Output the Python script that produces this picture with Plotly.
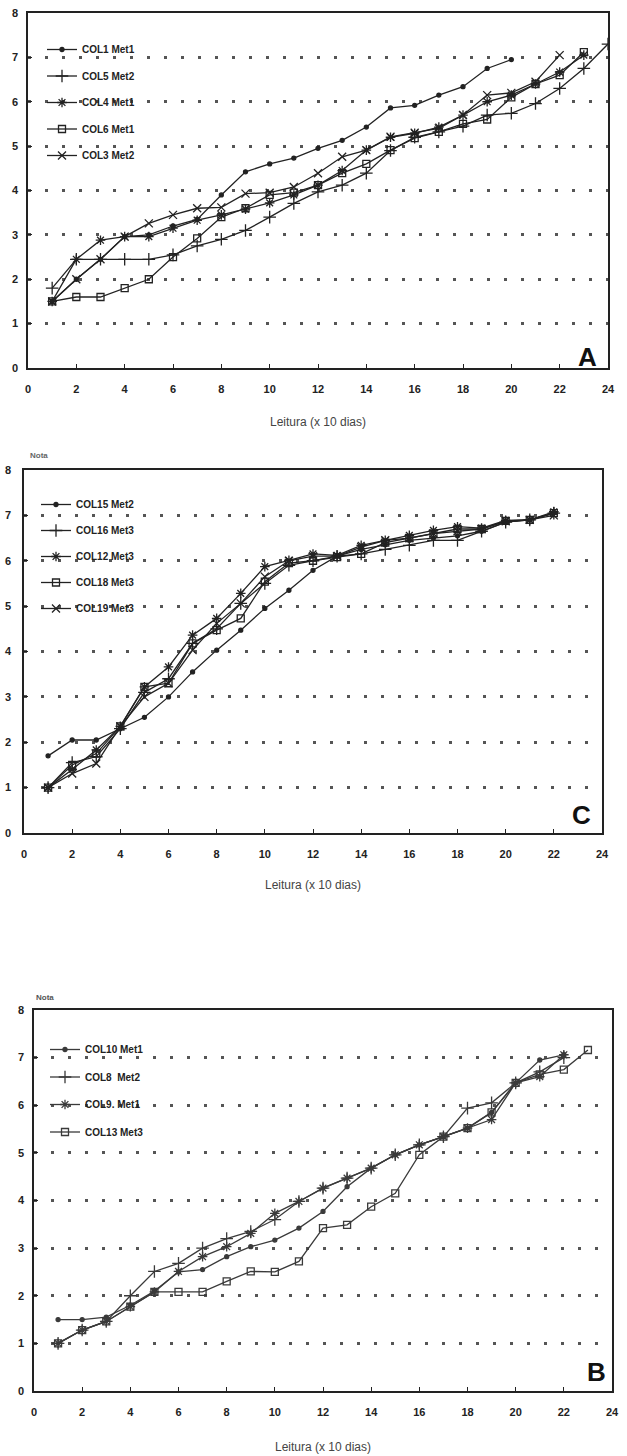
import plotly.graph_objects as go

# ---------------- data ----------------
x_ticks = list(range(0, 25, 2))
y_ticks = list(range(0, 9))

# Panel A
a_names = ["COL1 Met1", "COL5 Met2", "COL4 Met1", "COL6 Met1", "COL3 Met2"]
a_col1 = [1.5, 2.0, 2.45, 2.96, 3.0, 3.2, 3.35, 3.9, 4.42, 4.6, 4.73, 4.95, 5.13, 5.43, 5.86, 5.92, 6.15, 6.34, 6.75, 6.95]
a_col5 = [1.8, 2.45, 2.45, 2.45, 2.45, 2.55, 2.75, 2.9, 3.1, 3.4, 3.71, 3.97, 4.12, 4.39, 4.9, 5.2, 5.32, 5.45, 5.7, 5.74, 5.96, 6.3, 6.75, 7.3]
a_col4 = [1.5, 2.45, 2.88, 2.96, 2.96, 3.15, 3.33, 3.45, 3.58, 3.72, 3.9, 4.12, 4.45, 4.91, 5.2, 5.29, 5.43, 5.7, 6.0, 6.15, 6.4, 6.67, 7.05]
a_col6 = [1.5, 1.6, 1.6, 1.8, 2.0, 2.5, 2.92, 3.4, 3.6, 3.9, 3.95, 4.12, 4.39, 4.6, 4.91, 5.18, 5.32, 5.5, 5.6, 6.1, 6.4, 6.6, 7.12]
a_col3 = [1.5, 2.0, 2.45, 2.96, 3.26, 3.45, 3.6, 3.62, 3.93, 3.95, 4.08, 4.39, 4.76, 4.91, 5.21, 5.3, 5.4, 5.7, 6.15, 6.2, 6.45, 7.05]

# Panel C
c_names = ["COL15 Met2", "COL16 Met3", "COL12 Met3", "COL18 Met3", "COL19 Met3"]
c_col15 = [1.7, 2.05, 2.05, 2.3, 2.55, 3.0, 3.55, 4.03, 4.47, 4.95, 5.35, 5.79, 6.1, 6.25, 6.35, 6.45, 6.5, 6.55, 6.65, 6.85, 6.9, 7.05]
c_col16 = [1.0, 1.55, 1.68, 2.3, 3.1, 3.4, 4.18, 4.5, 5.06, 5.5, 5.9, 6.0, 6.1, 6.15, 6.25, 6.34, 6.45, 6.45, 6.65, 6.85, 6.9, 7.05]
c_col12 = [1.0, 1.4, 1.83, 2.35, 3.22, 3.66, 4.36, 4.73, 5.28, 5.87, 6.01, 6.15, 6.12, 6.34, 6.45, 6.56, 6.67, 6.75, 6.72, 6.89, 6.9, 7.08]
c_col18 = [1.0, 1.5, 1.75, 2.35, 3.22, 3.3, 4.18, 4.47, 4.73, 5.54, 5.95, 6.0, 6.08, 6.15, 6.4, 6.5, 6.6, 6.7, 6.7, 6.88, 6.9, 7.05]
c_col19 = [1.0, 1.31, 1.53, 2.35, 3.0, 3.3, 4.03, 4.62, 5.06, 5.65, 6.0, 6.1, 6.1, 6.3, 6.45, 6.5, 6.6, 6.65, 6.7, 6.87, 6.9, 7.0]

# Panel B
b_names = ["COL10 Met1", "COL8  Met2", "COL9. Met1", "COL13 Met3"]
b_col10 = [1.5, 1.5, 1.55, 1.8, 2.1, 2.5, 2.55, 2.82, 3.03, 3.17, 3.42, 3.77, 4.29, 4.68, 4.96, 5.17, 5.34, 5.52, 5.85, 6.47, 6.95, 7.06]
b_col8 = [1.0, 1.28, 1.46, 2.0, 2.51, 2.68, 3.0, 3.2, 3.35, 3.6, 3.98, 4.26, 4.47, 4.68, 4.96, 5.17, 5.34, 5.94, 6.05, 6.47, 6.7, 7.0]
b_col9 = [1.0, 1.28, 1.46, 1.77, 2.08, 2.51, 2.82, 3.03, 3.31, 3.73, 3.98, 4.26, 4.47, 4.68, 4.96, 5.17, 5.34, 5.52, 5.7, 6.47, 6.6, 7.06]
b_col13 = [1.0, 1.28, 1.46, 1.77, 2.08, 2.08, 2.08, 2.3, 2.51, 2.5, 2.72, 3.42, 3.49, 3.87, 4.15, 4.96, 5.34, 5.52, 5.85, 6.47, 6.65, 6.75, 7.16]

# ---------------- styling ----------------
W, H = 627, 1456
FONT = "Liberation Sans"
INK = "#222222"

def px_x(p):
    return p / W

def px_y(p):
    return (H - p) / H

markers = {
    "dot": dict(symbol="circle", size=4),
    "plus": dict(symbol="cross-thin", size=9),
    "star": dict(symbol="asterisk", size=8),
    "square": dict(symbol="square-open", size=7),
    "x": dict(symbol="x-thin", size=8),
}

fig = go.Figure()

def add_series(values, name, kind, xa, ya, legend, color):
    m = dict(markers[kind])
    m["color"] = color
    m["line"] = dict(color=color, width=1.3)
    fig.add_trace(go.Scatter(
        x=list(range(1, len(values) + 1)), y=values, name=name,
        mode="lines+markers", line=dict(color=color, width=1.3),
        marker=m, xaxis=xa, yaxis=ya, legend=legend, legendgroup=name + legend,
    ))

kinds5 = ["dot", "plus", "star", "square", "x"]
for vals, nm, k in zip([a_col1, a_col5, a_col4, a_col6, a_col3], a_names, kinds5):
    add_series(vals, nm, k, "x", "y", "legend", INK)
for vals, nm, k in zip([c_col15, c_col16, c_col12, c_col18, c_col19], c_names, kinds5):
    add_series(vals, nm, k, "x2", "y2", "legend2", INK)
for vals, nm, k in zip([b_col10, b_col8, b_col9, b_col13], b_names, ["dot", "plus", "star", "square"]):
    add_series(vals, nm, k, "x3", "y3", "legend3", "#3a3a3a")

def xaxis(left, right, anchor, title_standoff):
    return dict(
        domain=[px_x(left), px_x(right)], anchor=anchor, range=[0, 24],
        tickvals=x_ticks, ticks="inside", ticklen=4, tickcolor=INK, tickwidth=1.2,
        showline=True, mirror=True, linecolor=INK, linewidth=1.6,
        showgrid=False, zeroline=False, automargin=False, fixedrange=True,
        ticklabelstandoff=10,
        tickfont=dict(family=FONT, size=11, color=INK, weight="bold"),
        title=dict(text="Leitura (x 10 dias)", standoff=title_standoff,
                   font=dict(family=FONT, size=12, color="#444444")),
    )

def yaxis(bottom, top, anchor, standoff):
    return dict(
        domain=[px_y(bottom), px_y(top)], anchor=anchor, range=[0, 8],
        tickvals=y_ticks, ticks="inside", ticklen=4, tickcolor=INK, tickwidth=1.2,
        showline=True, mirror=True, linecolor=INK, linewidth=1.6,
        showgrid=True, gridcolor="#555555", gridwidth=2.5, griddash="3px,14px",
        zeroline=False, automargin=False, fixedrange=True,
        ticklabelstandoff=standoff,
        tickfont=dict(family=FONT, size=11, color=INK, weight="bold"),
    )

def legend_style(gap, x, y):
    return dict(
        bgcolor="rgba(0,0,0,0)", borderwidth=0, xanchor="left", yanchor="top",
        font=dict(family=FONT, size=10, color=INK, weight="bold"),
        tracegroupgap=gap, itemwidth=30, x=x, y=y,
    )

fig.update_layout(
    width=W, height=H, margin=dict(l=0, r=0, t=0, b=0),
    paper_bgcolor="white", plot_bgcolor="white",
    showlegend=True,
    xaxis=xaxis(28, 608, "y", 24), yaxis=yaxis(368, 13, "x", 6),
    xaxis2=xaxis(24, 602, "y2", 22), yaxis2=yaxis(833, 470, "x2", 9),
    xaxis3=xaxis(34, 612, "y3", 26), yaxis3=yaxis(1391, 1010, "x3", 6),
    legend=legend_style(7.5, px_x(42), px_y(35)),
    legend2=legend_style(7, px_x(36), px_y(490)),
    legend3=legend_style(8.5, px_x(45), px_y(1035)),
    annotations=[
        dict(text="Nota", x=px_x(28), y=px_y(455), xref="paper", yref="paper",
             xanchor="left", yanchor="middle", showarrow=False,
             font=dict(family=FONT, size=8, color="#666666", weight="bold")),
        dict(text="Nota", x=px_x(34), y=px_y(997), xref="paper", yref="paper",
             xanchor="left", yanchor="middle", showarrow=False,
             font=dict(family=FONT, size=8, color="#555555", weight="bold")),
        dict(text="A", x=px_x(587), y=px_y(357), xref="paper", yref="paper",
             xanchor="center", yanchor="middle", showarrow=False,
             font=dict(family=FONT, size=26, color="#111111", weight="bold")),
        dict(text="C", x=px_x(581), y=px_y(815), xref="paper", yref="paper",
             xanchor="center", yanchor="middle", showarrow=False,
             font=dict(family=FONT, size=26, color="#111111", weight="bold")),
        dict(text="B", x=px_x(596), y=px_y(1372), xref="paper", yref="paper",
             xanchor="center", yanchor="middle", showarrow=False,
             font=dict(family=FONT, size=26, color="#111111", weight="bold")),
    ],
)

fig.write_html("out.html", config={"displayModeBar": False},
               post_script="document.body.style.margin='0';document.body.style.overflow='hidden';")
